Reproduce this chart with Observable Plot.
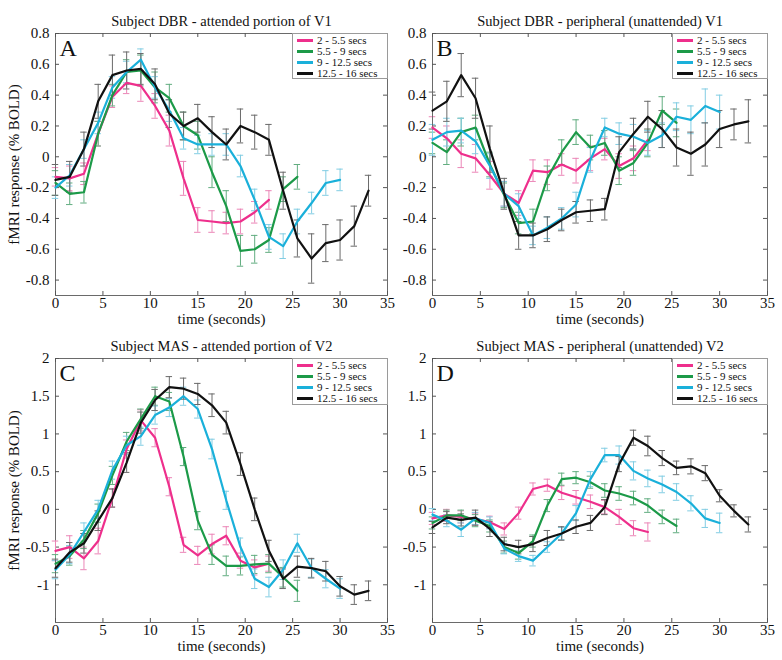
<!DOCTYPE html>
<html><head><meta charset="utf-8">
<script src="https://cdn.jsdelivr.net/npm/d3@7"></script>
<script src="https://cdn.jsdelivr.net/npm/@observablehq/plot@0.6"></script>
<style>
body{margin:0;background:white;}
#wrap{position:relative;width:782px;height:660px;overflow:hidden;background:white;font-family:"Liberation Serif",serif;}
.pan{position:absolute;}
.leg{position:absolute;background:white;border:1px solid #9a9a9a;box-sizing:border-box;padding-top:1px;font-size:11px;line-height:11px;color:#111;white-space:nowrap;font-family:"Liberation Serif",serif;}
.leg div{height:11px;}
.leg span{display:inline-block;width:16px;height:2.2px;vertical-align:middle;margin:0 4px 0 4px;position:relative;top:-1px;}
</style></head>
<body><div id="wrap"></div>
<script>
// ---- data ----
const T = [0,1.5,3,4.5,6,7.5,9,10.5,12,13.5,15,16.5,18,19.5,21,22.5,24,25.5,27,28.5,30,31.5,33];
const seriesNames = ["2 - 5.5 secs","5.5 - 9 secs","9 - 12.5 secs","12.5 - 16 secs"];
const xTicks = [0,5,10,15,20,25,30,35];
const yTicksAB = [-0.8,-0.6,-0.4,-0.2,0,0.2,0.4,0.6,0.8];
const yTicksCD = [-1,-0.5,0,0.5,1,1.5,2];

const A_pink = [-0.13,-0.14,-0.11,0.15,0.39,0.48,0.46,0.33,0.17,-0.14,-0.41,-0.42,-0.43,-0.42,-0.36,-0.28];
const A_pink_e = [0.06,0.08,0.07,0.08,0.07,0.07,0.1,0.08,0.1,0.11,0.08,0.07,0.07,0.08,0.07,0.06];
const A_green = [-0.17,-0.24,-0.23,0.15,0.40,0.55,0.56,0.45,0.38,0.20,0.14,-0.10,-0.32,-0.61,-0.60,-0.54,-0.21,-0.13];
const A_green_e = [0.08,0.07,0.07,0.08,0.07,0.08,0.1,0.1,0.09,0.09,0.09,0.1,0.1,0.1,0.09,0.08,0.08,0.08];
const A_cyan = [-0.20,-0.12,0.05,0.22,0.45,0.55,0.63,0.45,0.30,0.12,0.08,0.08,0.08,-0.06,-0.28,-0.52,-0.58,-0.42,-0.30,-0.17,-0.15];
const A_cyan_e = [0.07,0.07,0.06,0.07,0.07,0.07,0.07,0.07,0.07,0.07,0.06,0.07,0.07,0.07,0.07,0.08,0.08,0.08,0.07,0.08,0.07];
const A_black = [-0.15,-0.13,0.05,0.36,0.53,0.56,0.57,0.47,0.28,0.20,0.25,0.16,0.08,0.20,0.16,0.11,-0.22,-0.53,-0.66,-0.56,-0.54,-0.45,-0.22];
const A_black_e = [0.1,0.1,0.11,0.11,0.13,0.12,0.1,0.1,0.09,0.09,0.09,0.1,0.1,0.11,0.11,0.1,0.12,0.12,0.16,0.12,0.13,0.13,0.1];

const B_pink = [0.19,0.12,0.02,-0.01,-0.12,-0.24,-0.30,-0.09,-0.10,-0.05,-0.09,-0.01,0.05,-0.06,-0.01,0.11];
const B_pink_e = [0.07,0.08,0.09,0.09,0.09,0.08,0.08,0.07,0.08,0.07,0.08,0.08,0.07,0.08,0.08,0.07];
const B_green = [0.09,0.03,0.16,0.19,-0.05,-0.25,-0.43,-0.42,-0.14,0.03,0.16,0.06,0.09,-0.09,-0.04,0.09,0.30,0.22];
const B_green_e = [0.07,0.08,0.09,0.08,0.08,0.08,0.07,0.08,0.08,0.08,0.08,0.08,0.08,0.09,0.08,0.09,0.09,0.09];
const B_cyan = [0.11,0.16,0.17,0.10,-0.06,-0.24,-0.32,-0.51,-0.46,-0.40,-0.31,-0.02,0.19,0.15,0.13,0.09,0.14,0.26,0.24,0.33,0.29];
const B_cyan_e = [0.1,0.09,0.08,0.08,0.08,0.08,0.08,0.06,0.07,0.07,0.08,0.08,0.06,0.07,0.08,0.08,0.08,0.09,0.09,0.11,0.11];
const B_black = [0.30,0.36,0.53,0.38,0.05,-0.24,-0.51,-0.51,-0.47,-0.41,-0.36,-0.35,-0.34,0.03,0.15,0.26,0.18,0.06,0.02,0.08,0.18,0.21,0.23];
const B_black_e = [0.12,0.13,0.14,0.13,0.15,0.1,0.09,0.08,0.08,0.07,0.07,0.07,0.07,0.1,0.1,0.1,0.12,0.12,0.14,0.14,0.12,0.1,0.14];

const C_pink = [-0.55,-0.50,-0.65,-0.42,0.15,0.80,1.18,0.95,0.30,-0.47,-0.61,-0.46,-0.35,-0.68,-0.77,-0.72];
const C_pink_e = [0.13,0.15,0.15,0.17,0.12,0.12,0.14,0.12,0.12,0.1,0.12,0.13,0.12,0.1,0.1,0.1];
const C_green = [-0.72,-0.62,-0.40,-0.05,0.45,0.90,1.20,1.50,1.43,0.70,-0.15,-0.60,-0.75,-0.75,-0.73,-0.72,-0.90,-1.08];
const C_green_e = [0.12,0.12,0.12,0.12,0.12,0.12,0.13,0.12,0.12,0.12,0.12,0.13,0.13,0.12,0.12,0.12,0.13,0.14];
const C_cyan = [-0.80,-0.60,-0.30,0.00,0.52,0.85,0.97,1.25,1.35,1.50,1.33,0.80,0.12,-0.50,-0.92,-1.03,-0.80,-0.45,-0.78,-0.92,-1.05];
const C_cyan_e = [0.12,0.12,0.12,0.12,0.12,0.12,0.12,0.12,0.12,0.12,0.12,0.13,0.12,0.12,0.13,0.13,0.13,0.12,0.12,0.12,0.13];
const C_black = [-0.78,-0.57,-0.45,-0.15,0.15,0.62,1.15,1.45,1.62,1.60,1.53,1.38,1.15,0.60,0.00,-0.55,-0.92,-0.76,-0.78,-0.82,-1.02,-1.13,-1.08];
const C_black_e = [0.12,0.13,0.13,0.13,0.12,0.13,0.14,0.14,0.14,0.14,0.14,0.15,0.15,0.15,0.15,0.14,0.13,0.14,0.13,0.13,0.13,0.13,0.13];

const D_pink = [-0.12,-0.08,-0.10,-0.13,-0.17,-0.26,-0.05,0.27,0.32,0.22,0.16,0.10,0.03,-0.10,-0.25,-0.30];
const D_pink_e = [0.08,0.08,0.08,0.08,0.08,0.08,0.08,0.08,0.08,0.09,0.09,0.09,0.09,0.1,0.1,0.12];
const D_green = [-0.18,-0.08,-0.08,-0.15,-0.22,-0.50,-0.58,-0.42,0.05,0.40,0.42,0.36,0.25,0.21,0.15,0.05,-0.10,-0.22];
const D_green_e = [0.08,0.07,0.07,0.08,0.08,0.08,0.08,0.08,0.08,0.08,0.08,0.08,0.09,0.09,0.09,0.09,0.09,0.09];
const D_cyan = [-0.07,-0.15,-0.27,-0.12,-0.18,-0.52,-0.62,-0.68,-0.50,-0.32,-0.05,0.40,0.72,0.72,0.51,0.41,0.33,0.23,0.08,-0.12,-0.18];
const D_cyan_e = [0.08,0.08,0.09,0.08,0.08,0.07,0.07,0.07,0.07,0.08,0.1,0.1,0.09,0.12,0.12,0.11,0.11,0.11,0.1,0.12,0.13];
const D_black = [-0.24,-0.11,-0.14,-0.11,-0.26,-0.46,-0.50,-0.46,-0.38,-0.32,-0.23,-0.18,0.03,0.60,0.95,0.84,0.68,0.55,0.57,0.48,0.18,-0.02,-0.20];
const D_black_e = [0.08,0.08,0.08,0.1,0.1,0.09,0.09,0.1,0.1,0.09,0.09,0.1,0.1,0.1,0.1,0.13,0.1,0.09,0.1,0.1,0.08,0.08,0.1];

// ---- styles ----
const lineColors = ["#ee2f8c","#1c9a48","#1ab0da","#111111"];
const errColors = ["#eb86b7","#62ad80","#82cde3","#6a6a6a"];

const wrap = document.getElementById("wrap");
const fmt = d => String(Math.round(d*10)/10);

function panel(cfg) {
  const {left, top, width, height, boxH, mL, mR, mT, mB, title, letter, vals, errs, yDomain, yTicks, yLabel} = cfg;
  const W = width - mL - mR, H = height - mT - mB;
  const rows = vals.flatMap((v, s) => v.map((y, i) => ({s, t: T[i], v: y, lo: y - errs[s][i], hi: y + errs[s][i]})));
  const marks = [
    Plot.frame({stroke: "#6a6a6a", strokeWidth: 1}),
    Plot.tickX(xTicks, {x: d => d, insetTop: H - 4, stroke: "#555"}),
    Plot.tickX(xTicks, {x: d => d, insetBottom: H - 4, stroke: "#555"}),
    Plot.tickY(yTicks, {y: d => d, insetRight: W - 4, stroke: "#555"}),
    Plot.tickY(yTicks, {y: d => d, insetLeft: W - 4, stroke: "#555"}),
    Plot.axisX({ticks: xTicks, tickSize: 0, tickPadding: 2, fontSize: 15, tickFormat: d => String(d),
      label: "time (seconds)", labelAnchor: "center", labelArrow: "none", labelOffset: 28}),
    Plot.axisY({ticks: yTicks, tickSize: 0, tickPadding: 6, fontSize: 15, tickFormat: fmt,
      label: yLabel, labelAnchor: "center", labelArrow: "none", labelOffset: 47}),
  ];
  vals.forEach((v, s) => {
    const r = rows.filter(d => d.s === s);
    marks.push(
      Plot.ruleX(r, {x: "t", y1: "lo", y2: "hi", stroke: errColors[s], strokeWidth: 1}),
      Plot.ruleY(r, {y: "lo", x1: d => d.t - 0.34, x2: d => d.t + 0.34, stroke: errColors[s], strokeWidth: 1}),
      Plot.ruleY(r, {y: "hi", x1: d => d.t - 0.34, x2: d => d.t + 0.34, stroke: errColors[s], strokeWidth: 1})
    );
  });
  vals.forEach((v, s) => {
    marks.push(Plot.line(rows.filter(d => d.s === s), {x: "t", y: "v", stroke: lineColors[s], strokeWidth: 2.2}));
  });
  marks.push(
    Plot.text([title], {frameAnchor: "top", dy: -18, fontSize: 14.5, fill: "#111"}),
    Plot.text([letter], {frameAnchor: "top-left", dx: 4, dy: 5, fontSize: 24, textAnchor: "start", lineAnchor: "top", fill: "#111"})
  );
  const svg = Plot.plot({
    width, height, marginLeft: mL, marginRight: mR, marginTop: mT, marginBottom: mB,
    style: {fontFamily: "Liberation Serif, serif", fontSize: "15px", color: "#111", background: "transparent", overflow: "visible"},
    x: {domain: [0, 35]},
    y: {domain: yDomain},
    marks
  });
  const div = document.createElement("div");
  div.className = "pan";
  div.style.left = left + "px"; div.style.top = top + "px";
  div.style.width = width + "px"; div.style.height = height + "px";
  div.appendChild(svg);
  wrap.appendChild(div);
  // legend
  const leg = document.createElement("div");
  leg.className = "leg";
  const fr = left + width - mR;
  leg.style.left = (fr - 95) + "px";
  leg.style.top = (top + mT) + "px";
  leg.style.width = "96px";
  leg.style.height = boxH + "px";
  seriesNames.forEach((n, s) => {
    const row = document.createElement("div");
    const sw = document.createElement("span");
    sw.style.background = lineColors[s];
    row.appendChild(sw);
    row.appendChild(document.createTextNode(n));
    leg.appendChild(row);
  });
  wrap.appendChild(leg);
}

panel({left: 0, top: 0, width: 395, height: 330, boxH: 46, mL: 55, mR: 8, mT: 33, mB: 35,
  title: "Subject DBR - attended portion of V1", letter: "A",
  vals: [A_pink, A_green, A_cyan, A_black], errs: [A_pink_e, A_green_e, A_cyan_e, A_black_e],
  yDomain: [-0.9, 0.8], yTicks: yTicksAB, yLabel: "fMRI response (% BOLD)"});
panel({left: 391, top: 0, width: 391, height: 330, boxH: 46, mL: 41, mR: 15, mT: 33, mB: 35,
  title: "Subject DBR - peripheral (unattended) V1", letter: "B",
  vals: [B_pink, B_green, B_cyan, B_black], errs: [B_pink_e, B_green_e, B_cyan_e, B_black_e],
  yDomain: [-0.9, 0.8], yTicks: yTicksAB, yLabel: null});
panel({left: 0, top: 320, width: 395, height: 340, boxH: 47, mL: 55, mR: 8, mT: 38, mB: 38,
  title: "Subject MAS - attended portion of V2", letter: "C",
  vals: [C_pink, C_green, C_cyan, C_black], errs: [C_pink_e, C_green_e, C_cyan_e, C_black_e],
  yDomain: [-1.5, 2], yTicks: yTicksCD, yLabel: "fMRI response (% BOLD)"});
panel({left: 391, top: 320, width: 391, height: 340, boxH: 47, mL: 41, mR: 15, mT: 38, mB: 38,
  title: "Subject MAS - peripheral (unattended) V2", letter: "D",
  vals: [D_pink, D_green, D_cyan, D_black], errs: [D_pink_e, D_green_e, D_cyan_e, D_black_e],
  yDomain: [-1.5, 2], yTicks: yTicksCD, yLabel: null});
</script></body></html>
